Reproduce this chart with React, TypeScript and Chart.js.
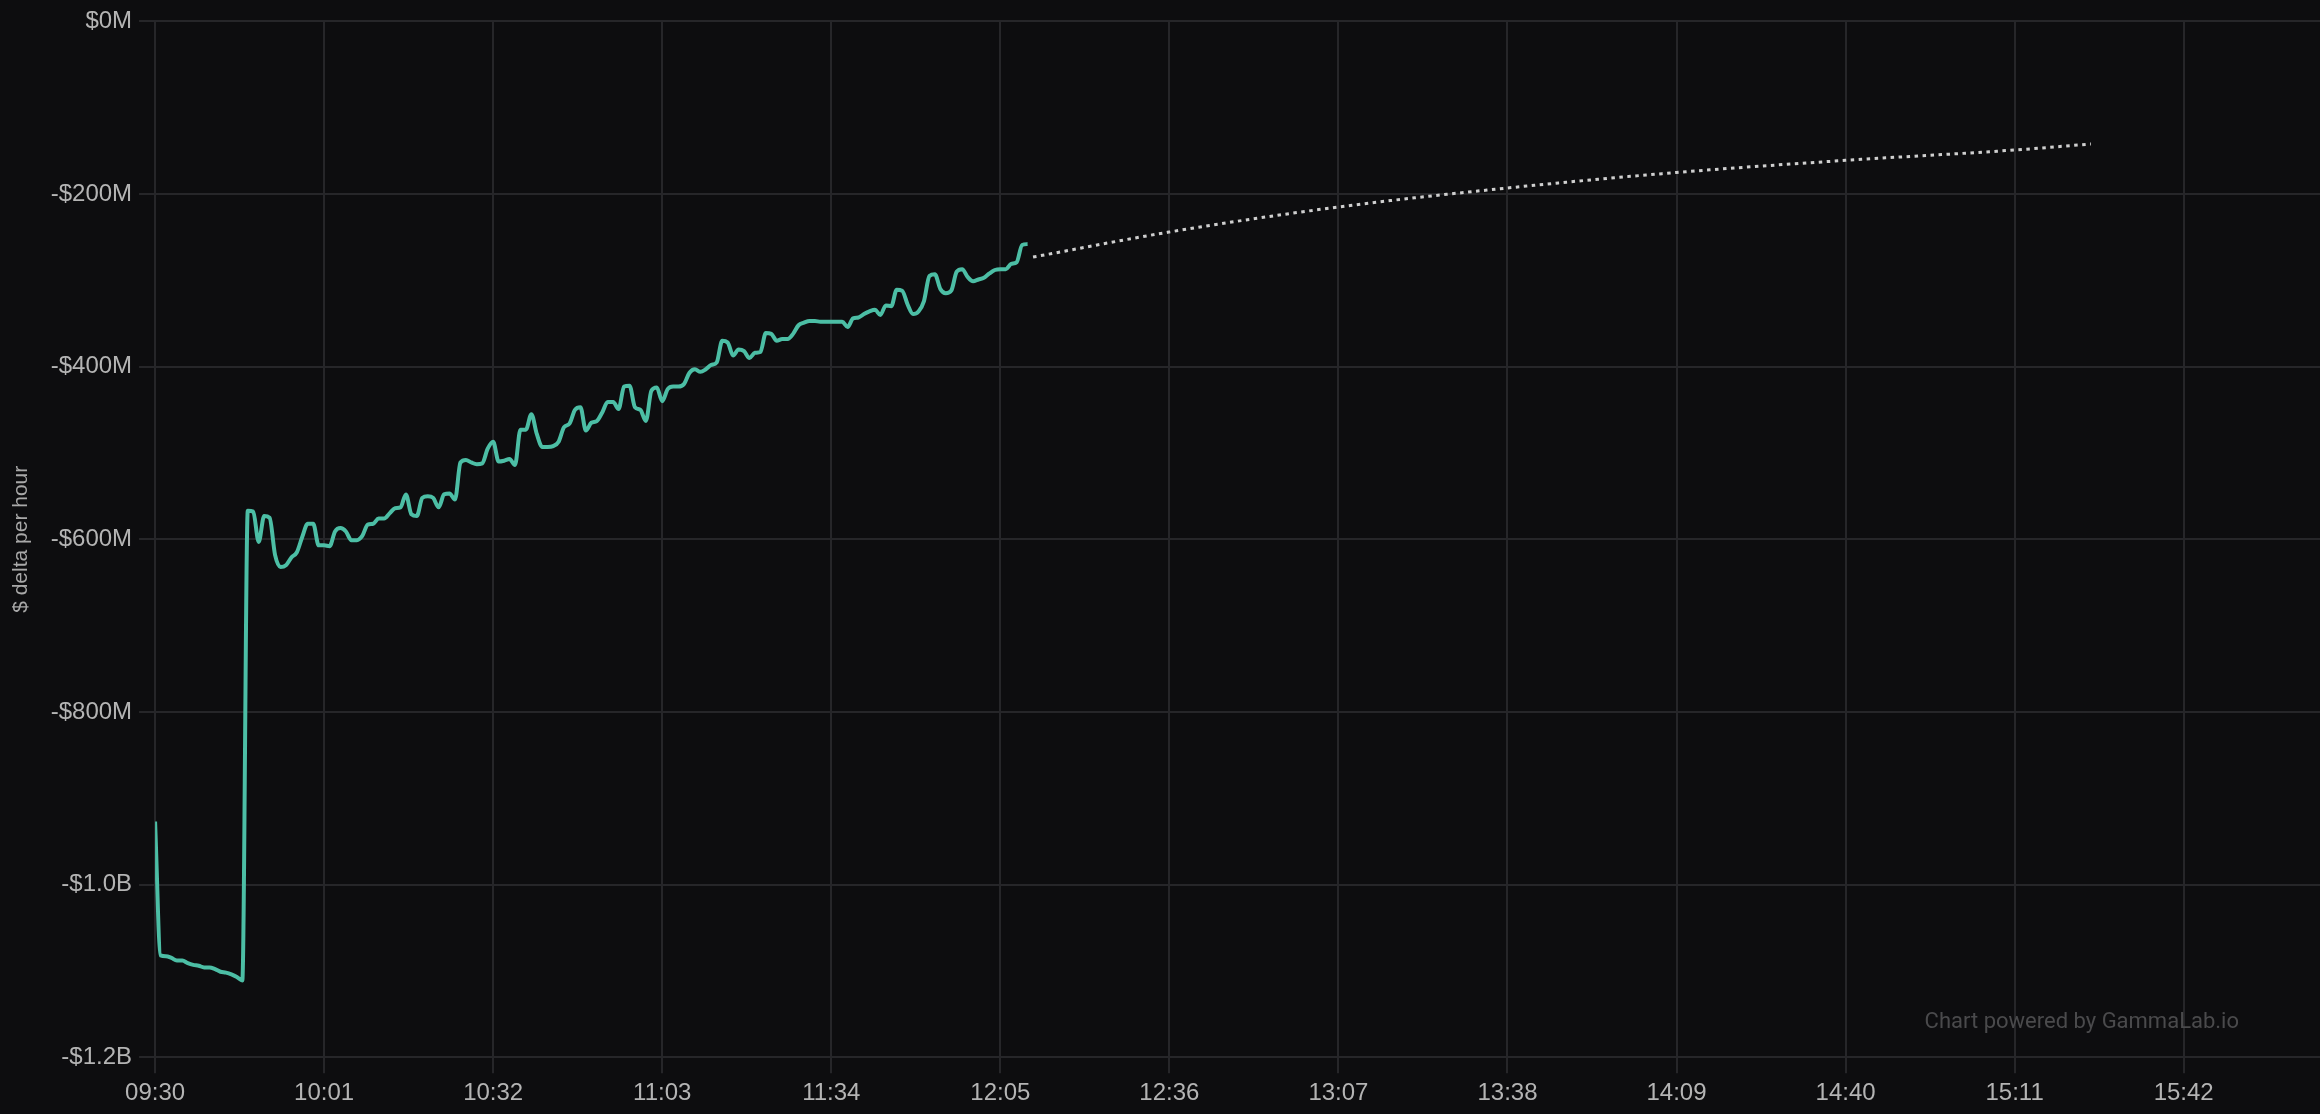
import { useEffect, useRef } from "react"
import { Chart, registerables, type ChartConfiguration, type Plugin } from "chart.js"

Chart.register(...registerables)

// session clock
const sessionOpen = "09:30"
const axisEnd = "16:07"

// x-axis tick labels
const timeTicks = [
  "09:30", "10:01", "10:32", "11:03", "11:34", "12:05", "12:36",
  "13:07", "13:38", "14:09", "14:40", "15:11", "15:42",
]

// realized $ delta per hour ($M), one reading per minute from 09:30
const liveValues = [
  -927, -1082, -1083, -1085, -1088, -1088, -1091, -1093, -1094, -1096,
  -1096, -1098, -1101, -1102, -1104, -1107, -1111, -567, -568, -603,
  -573, -575, -618, -632, -630, -621, -615, -597, -582, -582,
  -607, -607, -608, -591, -587, -591, -601, -601, -596, -583,
  -582, -576, -576, -570, -564, -563, -548, -571, -573, -552,
  -550, -552, -563, -548, -547, -554, -511, -508, -511, -513,
  -512, -495, -487, -510, -509, -507, -514, -473, -473, -455,
  -478, -493, -493, -492, -487, -470, -466, -450, -447, -474,
  -465, -463, -453, -441, -441, -449, -423, -422, -447, -450,
  -463, -428, -424, -440, -426, -423, -423, -420, -407, -403,
  -406, -403, -398, -395, -370, -372, -387, -380, -382, -390,
  -384, -383, -361, -362, -370, -368, -368, -362, -352, -349,
  -347, -347, -348, -348, -348, -348, -348, -354, -344, -343,
  -339, -336, -334, -340, -329, -330, -311, -312, -328, -339,
  -336, -324, -295, -293, -310, -315, -312, -290, -287, -296,
  -301, -299, -297, -292, -288, -287, -287, -281, -279, -259,
  -258,
]

// projected path for the rest of the day ($M)
const projTimes = ["12:11", "12:36", "13:07", "13:38", "14:09", "14:40", "15:11", "15:25"]
const projValues = [-273, -244, -215, -193, -175, -161, -149, -142]

const FONT = "'Liberation Sans', Arial, Helvetica, sans-serif"

const toMin = (t: string) => {
  const [h, m] = t.split(":").map(Number)
  const [h0, m0] = sessionOpen.split(":").map(Number)
  return h * 60 + m - (h0 * 60 + m0)
}

const fmtTime = (v: number) => {
  const [h0, m0] = sessionOpen.split(":").map(Number)
  const total = h0 * 60 + m0 + Math.round(v)
  const h = Math.floor(total / 60)
  const m = total % 60
  return `${String(h).padStart(2, "0")}:${String(m).padStart(2, "0")}`
}

const fmtMoney = (v: number) => {
  if (v === 0) return "$0M"
  const sign = v < 0 ? "-" : ""
  const a = Math.abs(v)
  return a >= 1000 ? `${sign}$${(a / 1000).toFixed(1)}B` : `${sign}$${a}M`
}

// "powered by" note in the lower right corner of the plot
const watermark: Plugin<"line"> = {
  id: "watermark",
  beforeDatasetsDraw(chart) {
    const { ctx, chartArea } = chart
    ctx.save()
    ctx.font = "22px Roboto, 'Noto Sans', sans-serif"
    ctx.fillStyle = "#4a4a4c"
    ctx.textAlign = "right"
    ctx.textBaseline = "alphabetic"
    ctx.fillText("Chart powered by GammaLab.io", chartArea.right - 81, chartArea.bottom - 29)
    ctx.restore()
  },
}

export default function App() {
  const canvasRef = useRef<HTMLCanvasElement>(null)

  useEffect(() => {
    if (!canvasRef.current) return

    const config: ChartConfiguration<"line"> = {
      type: "line",
      data: {
        datasets: [
          {
            label: "live",
            data: liveValues.map((v, i) => ({ x: i, y: v })),
            borderColor: "#4cbea5",
            borderWidth: 4,
            cubicInterpolationMode: "monotone",
            borderJoinStyle: "round",
            pointRadius: 0,
          },
          {
            label: "projection",
            data: projTimes.map((t, i) => ({ x: toMin(t), y: projValues[i] })),
            borderColor: "#cfcfcf",
            borderWidth: 3,
            borderDash: [3.5, 4.5],
            cubicInterpolationMode: "monotone",
            pointRadius: 0,
          },
        ],
      },
      options: {
        animation: false,
        responsive: true,
        maintainAspectRatio: false,
        layout: { padding: { top: 20, left: 9, right: 0, bottom: 0 } },
        plugins: {
          legend: { display: false },
          tooltip: { enabled: false },
        },
        scales: {
          x: {
            type: "linear",
            min: 0,
            max: toMin(axisEnd),
            afterBuildTicks: (axis) => {
              axis.ticks = timeTicks.map((t) => ({ value: toMin(t) }))
            },
            ticks: {
              callback: (v) => fmtTime(Number(v)),
              color: "#b4b4b4",
              font: { family: FONT, size: 24 },
              padding: 6,
              maxRotation: 0,
              autoSkip: false,
            },
            grid: { color: "#262629", lineWidth: 2, tickLength: 16 },
            border: { display: false },
          },
          y: {
            min: -1200,
            max: 0,
            ticks: {
              stepSize: 200,
              callback: (v) => fmtMoney(Number(v)),
              color: "#b4b4b4",
              font: { family: FONT, size: 24 },
              padding: 7,
            },
            grid: { color: "#262629", lineWidth: 2, tickLength: 16 },
            border: { display: false },
            title: {
              display: true,
              text: "$ delta per hour",
              color: "#a8a8a8",
              font: { family: FONT, size: 21 },
              padding: { top: 0, bottom: 9.5 },
            },
          },
        },
      },
      plugins: [watermark],
    }

    const chart = new Chart(canvasRef.current, config)
    return () => chart.destroy()
  }, [])

  return (
    <div style={{ position: "fixed", left: 0, top: 0, width: "100vw", height: "100vh", background: "#0d0d0f" }}>
      <canvas ref={canvasRef}></canvas>
    </div>
  )
}
